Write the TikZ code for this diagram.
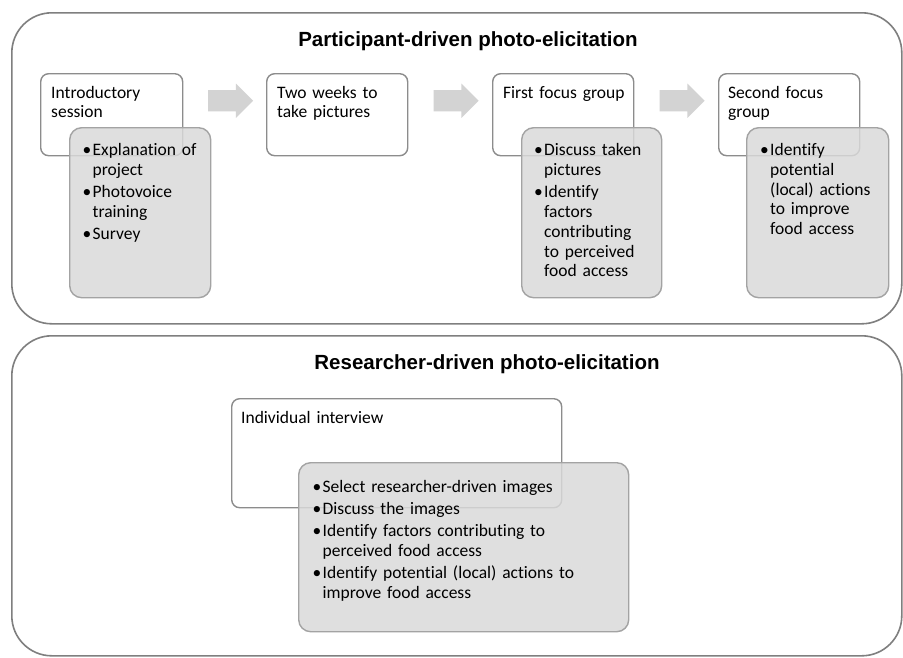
\documentclass[tikz,border=0pt]{standalone}
\usepackage{fontspec}
\setmainfont{Carlito}[Ligatures={NoCommon}]
\newfontfamily\titlefont{Liberation Sans}
\usetikzlibrary{shapes.arrows,calc}
\definecolor{outerline}{HTML}{7F7F7F}
\definecolor{wline}{HTML}{8C8C8C}
\definecolor{gline}{HTML}{A3A3A3}
\definecolor{gfill}{HTML}{DADADA}
\definecolor{afill}{HTML}{D3D3D3}
\newcommand{\bodyfont}{\fontsize{17.5}{19.8}\selectfont}
\newcommand{\bul}[1]{\hangindent=10pt\hangafter=1\makebox[10pt][l]{\textbullet}#1\par}
\begin{document}
\begin{tikzpicture}[x=1pt,y=-1pt,
  outerbox/.style={draw=outerline,line width=1.6pt,rounded corners=40pt,fill=white,anchor=north west,inner sep=0pt},
  whitebox/.style={draw=wline,line width=1.4pt,rounded corners=8pt,fill=white,anchor=north west,inner sep=0pt},
  graybox/.style={draw=gline,line width=1.4pt,rounded corners=12pt,fill=gfill,fill opacity=0.84,anchor=north west,inner sep=0pt},
  heading/.style={font=\titlefont\bfseries\fontsize{20.5}{24}\selectfont,anchor=base,inner sep=0pt},
  boxtext/.style={font=\bodyfont,anchor=base west,inner sep=0pt,text width=#1,align=left},
  boxtext/.default=130pt,
  blockarrow/.style={single arrow,draw=none,fill=afill,minimum height=45pt,minimum width=34pt,single arrow head extend=6.5pt,inner xsep=0pt,inner ysep=10.5pt}
]
\useasboundingbox (0,0) rectangle (903,657);
% outer panels
\node[outerbox,minimum width=890pt,minimum height=311pt] (top) at (11,12) {};
\node[outerbox,minimum width=890pt,minimum height=320pt] (bot) at (11,335) {};
\node[heading] (toptitle) at (468,46) {Participant-driven photo-elicitation};
\node[heading] (bottitle) at (487,369) {Researcher-driven photo-elicitation};
% white boxes
\node[whitebox,minimum width=142pt,minimum height=82pt] (b1) at (40,73) {};
\node[whitebox,minimum width=141pt,minimum height=82pt] (b2) at (266,73) {};
\node[whitebox,minimum width=141pt,minimum height=82pt] (b3) at (492,73) {};
\node[whitebox,minimum width=141pt,minimum height=82pt] (b4) at (718,73) {};
\node[whitebox,minimum width=330pt,minimum height=109pt] (b5) at (231,398) {};
% gray boxes
\node[graybox,minimum width=141pt,minimum height=170pt] (g1) at (69,127) {};
\node[graybox,minimum width=140pt,minimum height=170pt] (g3) at (521,127) {};
\node[graybox,minimum width=142pt,minimum height=170pt] (g4) at (746,127) {};
\node[graybox,minimum width=330pt,minimum height=169pt] (g5) at (298,462) {};
% texts
\node[boxtext] (t1) at (51,98) {Introductory\newline session};
\node[boxtext] (t2) at (277,98) {Two weeks to\newline take pictures};
\node[boxtext] (t3) at (503,98) {First focus group};
\node[boxtext] (t4) at (728,98) {Second focus\newline group};
\node[boxtext=300pt] (t5) at (241,423) {Individual interview};
\node[boxtext] (u1) at (82.5,155.5) {\bul{Explanation of\newline project}\vspace{2.5pt}\bul{Photovoice\newline training}\vspace{2.5pt}\bul{Survey}};
\node[boxtext] (u3) at (534,155.5) {\bul{Discuss taken\newline pictures}\vspace{2.5pt}\bul{Identify\newline factors\newline contributing\newline to perceived\newline food access}};
\node[boxtext] (u4) at (760,155.5) {\bul{Identify\newline potential\newline (local) actions\newline to improve\newline food access}};
\node[boxtext=310pt] (u5) at (312.5,492) {\bul{Select researcher-driven images}\vspace{2.5pt}\bul{Discuss the images}\vspace{2.5pt}\bul{Identify factors contributing to\newline perceived food access}\vspace{2.5pt}\bul{Identify potential (local) actions to\newline improve food access}};
% block arrows between steps
\node[blockarrow] (a1) at ($(b1.east)!0.5!(b2.west)+(0.5,-14)$) {};
\node[blockarrow] (a2) at ($(b2.east)!0.5!(b3.west)+(0.5,-14)$) {};
\node[blockarrow] (a3) at ($(b3.east)!0.5!(b4.west)+(0.5,-14)$) {};
\end{tikzpicture}
\end{document}
